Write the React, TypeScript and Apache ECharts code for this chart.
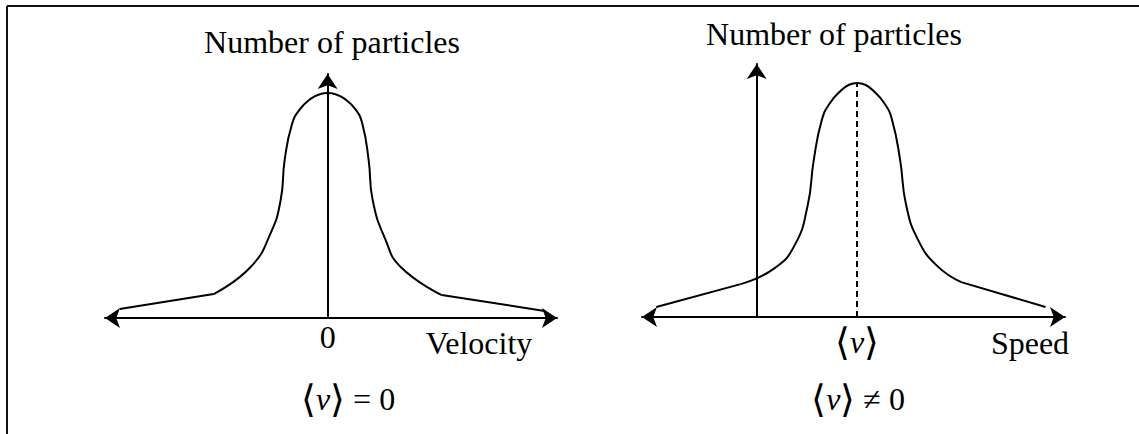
import React, { useEffect, useRef } from 'react';
import * as echarts from 'echarts';

const W = 1139;
const H = 434;
const SERIF = '"Liberation Serif", "Times New Roman", serif';
const BRACKET_FONT = '"DejaVu Sans", sans-serif';

// Left panel: velocity distribution (x: velocity, y: number of particles)
const velTailLeft: number[][] = [[-9.34, 3.7], [-5.12, 9.8]];
const velCenter: number[][] = [
  [-5.12, 9.8], [-3.46, 20.9], [-2.56, 34.8], [-2.11, 48.4], [-1.93, 64.8],
  [-1.6, 79.5], [-1.25, 85.5], [-0.75, 89.9], [-0.35, 91.7], [0, 92.2],
  [0.35, 91.7], [0.75, 89.9], [1.25, 85.5], [1.56, 79.5],
  [1.84, 64.8], [2.02, 48.4], [2.6, 32.0], [3.28, 20.9], [5.12, 9.4],
];
const velTailRight: number[][] = [[5.12, 9.4], [9.74, 2.9]];

// Right panel: speed distribution
const spdTailLeft: number[][] = [[-3.5, 3.95], [-0.56, 13.0]];
const spdCenter: number[][] = [
  [-0.56, 13.0], [0.59, 19.0], [1.33, 28.5], [1.78, 44.3], [1.99, 62.1],
  [2.27, 77.9], [2.55, 84.5], [2.95, 89.6], [3.22, 91.8], [3.5, 92.5],
  [3.78, 91.8], [4.05, 89.6], [4.45, 84.5], [4.72, 77.9],
  [5.0, 62.1], [5.21, 44.3], [5.63, 30.4], [6.29, 20.2], [7.13, 13.8],
];
const spdTailRight: number[][] = [[7.13, 13.8], [10.07, 3.95]];

const meanSpeed = 3.5;
const meanSpeedPeak = 92.5;
const velTickValues = [0];
const spdTickValues = [meanSpeed];

const titles = ['Number of particles', 'Number of particles'];
const xNames = ['Velocity', 'Speed'];

const FS = 32;

const bracketRich = {
  br: { fontFamily: BRACKET_FONT, fontSize: 38, fontWeight: 200, color: '#000', verticalAlign: 'middle' },
  v: { fontFamily: SERIF, fontStyle: 'italic', fontSize: FS, color: '#000', verticalAlign: 'middle' },
  t: { fontFamily: SERIF, fontSize: FS, color: '#000', verticalAlign: 'middle' },
};

const lineSeries = (data: number[][], idx: number, smooth: number | boolean) => ({
  type: 'line',
  xAxisIndex: idx,
  yAxisIndex: idx,
  data,
  smooth,
  showSymbol: false,
  symbol: 'none',
  silent: true,
  lineStyle: { color: '#000', width: 2 },
});

export default function App() {
  const ref = useRef<HTMLDivElement>(null);
  useEffect(() => {
    if (!ref.current) return;
    const chart = echarts.init(ref.current, null, { renderer: 'svg' });
    const axisLineBase = { color: '#000', width: 2 };
    const option: any = {
      animation: false,
      backgroundColor: '#fff',
      grid: [
        { left: 105, right: W - 557, top: 74, bottom: H - 318 },
        { left: 642, right: W - 1065, top: 64, bottom: H - 317 },
      ],
      xAxis: [
        {
          type: 'value', gridIndex: 0, min: -10, max: 10.3,
          axisLine: { onZero: true, symbol: ['arrow', 'arrow'], symbolSize: [15, 15], lineStyle: axisLineBase },
          axisTick: { show: false }, splitLine: { show: false },
          axisLabel: {
            customValues: velTickValues,
            formatter: (v: number) => (v === 0 ? '0' : ''),
            fontFamily: SERIF, fontSize: FS, color: '#000', margin: 3,
          },
        },
        {
          type: 'value', gridIndex: 1, min: -4, max: 10.75,
          axisLine: { onZero: true, symbol: ['arrow', 'arrow'], symbolSize: [15, 15], lineStyle: axisLineBase },
          axisTick: { show: false }, splitLine: { show: false },
          axisLabel: {
            customValues: spdTickValues,
            formatter: () => '{br|⟨}{v|v}{br|⟩}',
            rich: bracketRich,
            margin: 6,
          },
        },
      ],
      yAxis: [
        {
          type: 'value', gridIndex: 0, min: 0, max: 100,
          axisLine: { onZero: true, symbol: ['none', 'arrow'], symbolSize: [15, 15], lineStyle: axisLineBase },
          axisTick: { show: false }, splitLine: { show: false }, axisLabel: { show: false },
        },
        {
          type: 'value', gridIndex: 1, min: 0, max: 100,
          axisLine: { onZero: true, symbol: ['none', 'arrow'], symbolSize: [15, 15], lineStyle: axisLineBase },
          axisTick: { show: false }, splitLine: { show: false }, axisLabel: { show: false },
        },
      ],
      series: [
        lineSeries(velTailLeft, 0, false),
        lineSeries(velCenter, 0, 0.5),
        lineSeries(velTailRight, 0, false),
        lineSeries(spdTailLeft, 1, false),
        {
          ...lineSeries(spdCenter, 1, 0.5),
          markLine: {
            silent: true,
            symbol: ['none', 'none'],
            label: { show: false },
            lineStyle: { type: [6, 4], color: '#000', width: 2 },
            data: [[{ coord: [meanSpeed, 0] }, { coord: [meanSpeed, meanSpeedPeak] }]],
          },
        },
        lineSeries(spdTailRight, 1, false),
      ],
      graphic: [
        { type: 'line', shape: { x1: 7, y1: 6, x2: W, y2: 6 }, style: { stroke: '#111', lineWidth: 2 } },
        { type: 'line', shape: { x1: 7, y1: 6, x2: 7, y2: H }, style: { stroke: '#111', lineWidth: 2 } },
        {
          type: 'text', x: 332, y: 42,
          style: { text: titles[0], fontFamily: SERIF, fontSize: FS, fill: '#000', align: 'center', verticalAlign: 'middle' },
        },
        {
          type: 'text', x: 834, y: 34,
          style: { text: titles[1], fontFamily: SERIF, fontSize: FS, fill: '#000', align: 'center', verticalAlign: 'middle' },
        },
        {
          type: 'text', x: 479, y: 343,
          style: { text: xNames[0], fontFamily: SERIF, fontSize: FS, fill: '#000', align: 'center', verticalAlign: 'middle' },
        },
        {
          type: 'text', x: 1030, y: 343,
          style: { text: xNames[1], fontFamily: SERIF, fontSize: FS, fill: '#000', align: 'center', verticalAlign: 'middle' },
        },
        {
          type: 'text', x: 348, y: 399,
          style: { text: '{br|⟨}{v|v}{br|⟩}{t| = 0}', rich: bracketRich, align: 'center', verticalAlign: 'middle' },
        },
        {
          type: 'text', x: 858, y: 399,
          style: { text: '{br|⟨}{v|v}{br|⟩}{t| ≠ 0}', rich: bracketRich, align: 'center', verticalAlign: 'middle' },
        },
      ],
    };
    chart.setOption(option);
    return () => chart.dispose();
  }, []);
  return <div ref={ref} style={{ position: 'absolute', left: 0, top: 0, width: W, height: H }} />;
}
